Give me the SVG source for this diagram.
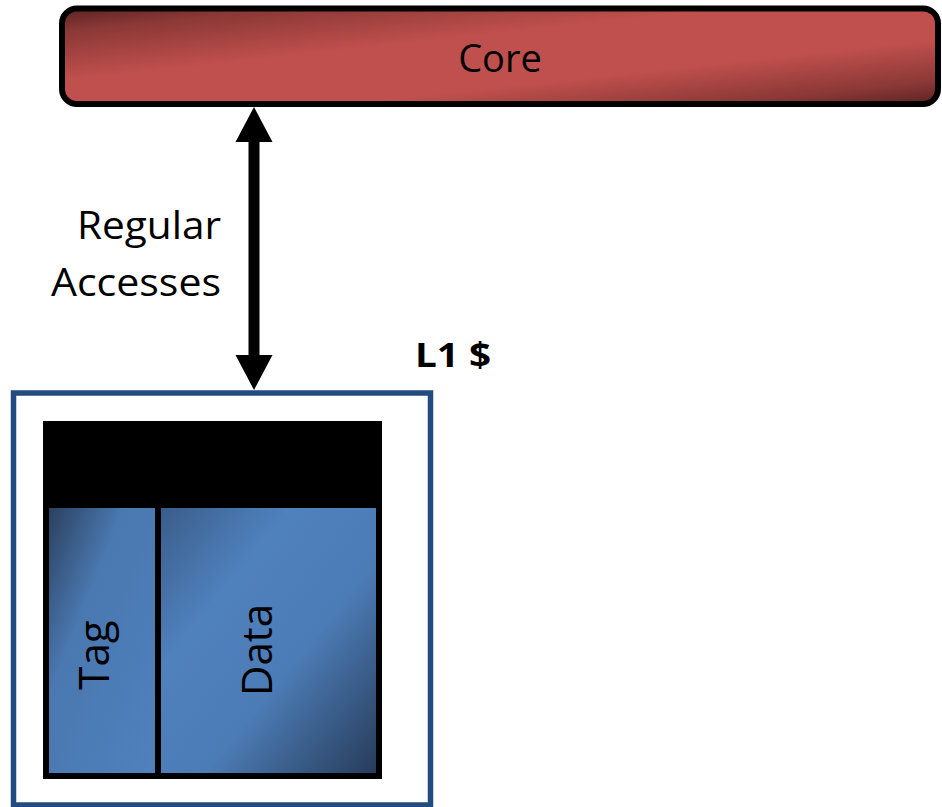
<svg xmlns="http://www.w3.org/2000/svg" width="942" height="807" viewBox="0 0 942 807">
<defs>
<linearGradient id="gRed" x1="0" y1="0" x2="1" y2="1">
<stop offset="0" stop-color="#5a2322"/>
<stop offset="0.12" stop-color="#8a3836"/>
<stop offset="0.38" stop-color="#c0504d"/>
<stop offset="0.66" stop-color="#c0504d"/>
<stop offset="0.88" stop-color="#8a3836"/>
<stop offset="1" stop-color="#5a2322"/>
</linearGradient>
<linearGradient id="gTag" x1="0" y1="0" x2="1" y2="1">
<stop offset="0" stop-color="#2b405e"/>
<stop offset="0.35" stop-color="#4a78b0"/>
<stop offset="1" stop-color="#4f81bd"/>
</linearGradient>
<linearGradient id="gData" x1="0" y1="0" x2="1" y2="1">
<stop offset="0" stop-color="#3a5d8a"/>
<stop offset="0.3" stop-color="#4f81bd"/>
<stop offset="0.6" stop-color="#4c7cb6"/>
<stop offset="1" stop-color="#273c5a"/>
</linearGradient>
<style>
.t{font-family:"Open Sans","Liberation Sans",sans-serif;fill:#000}
</style>
</defs>
<rect width="942" height="807" fill="#fff"/>
<g id="core">
<rect x="62" y="8.5" width="876" height="95.5" rx="15" fill="url(#gRed)" stroke="#000" stroke-width="6"/>
<text class="t" x="500" y="72" font-size="38" text-anchor="middle">Core</text>
</g>
<g id="connectors">
<rect x="248.5" y="138" width="11" height="220" fill="#000"/>
<polygon points="254,107 235.5,142 272.5,142" fill="#000"/>
<polygon points="254,390 235.5,355 272.5,355" fill="#000"/>
</g>
<g id="label-regular">
<text class="t" font-size="38"><tspan x="77" y="239" textLength="144" lengthAdjust="spacingAndGlyphs">Regular</tspan><tspan x="51" y="296" textLength="170" lengthAdjust="spacingAndGlyphs">Accesses</tspan></text>
</g>
<g id="l1">
<rect x="13.5" y="393" width="417" height="412" fill="#fff" stroke="#224b7f" stroke-width="5.5"/>
<text class="t" x="415" y="367" font-size="34" font-weight="bold" textLength="76" lengthAdjust="spacingAndGlyphs">L1 $</text>
<rect x="43" y="421" width="339" height="358" fill="#000"/>
</g>
<g id="tag">
<rect x="49" y="508" width="106" height="265" fill="url(#gTag)"/>
<text class="t" font-size="42" text-anchor="middle" transform="translate(109,655) rotate(-90)">Tag</text>
</g>
<g id="data">
<rect x="161" y="508" width="215" height="265" fill="url(#gData)"/>
<text class="t" font-size="42" text-anchor="middle" transform="translate(272,650) rotate(-90)">Data</text>
</g>
</svg>
